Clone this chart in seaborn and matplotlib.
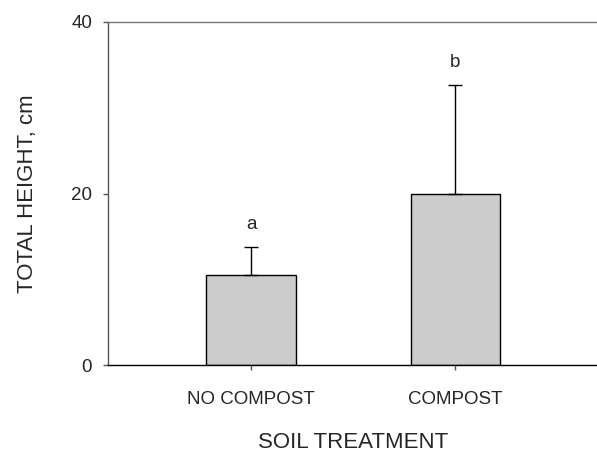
import pandas as pd
import matplotlib
matplotlib.use('Agg')
import matplotlib.pyplot as plt
import seaborn as sns

# Veriler
treatments = ['NO COMPOST', 'COMPOST']
mean_height = [10.5, 19.9]
sd_height = [3.3, 12.75]
letters = ['a', 'b']

df = pd.DataFrame({'Treatment': treatments, 'Height': mean_height})

sns.set_style('white')
plt.rcParams['font.family'] = ['Liberation Sans', 'DejaVu Sans']

fig = plt.figure(figsize=(5.97, 4.55), dpi=100)
ax = fig.add_axes([0.181, 0.197, 0.821, 0.755])

sns.barplot(data=df, x='Treatment', y='Height', color='#cccccc',
            edgecolor='black', linewidth=1, width=0.436,
            errorbar=None, saturation=1, ax=ax)

# Sadece üst hata çubukları
ax.errorbar(range(len(treatments)), mean_height,
            yerr=[[0] * len(sd_height), sd_height],
            fmt='none', ecolor='black', elinewidth=1, capsize=5, capthick=1)

# Anlamlılık harfleri
for i, (m, s, let) in enumerate(zip(mean_height, sd_height, letters)):
    ax.annotate(let, xy=(i, m + s), xytext=(0, 13), textcoords='offset points',
                ha='center', va='baseline', fontsize=13.5)

ax.set_xlim(-0.7, 1.7)
ax.set_ylim(0, 40)
ax.set_yticks([0, 20, 40])

ax.set_xlabel('SOIL TREATMENT', fontsize=16, labelpad=17)
ax.set_ylabel('TOTAL HEIGHT, cm', fontsize=16, labelpad=24)

ax.tick_params(axis='y', direction='out', length=3.5, width=1, labelsize=13.5,
               pad=8, left=True, color='#555555')
ax.tick_params(axis='x', direction='out', length=3.5, width=1, labelsize=13.5,
               pad=15, bottom=True, color='#555555')

ax.spines['right'].set_visible(False)
ax.spines['top'].set_color('#777777')
ax.spines['left'].set_color('#555555')
ax.spines['bottom'].set_color('black')
for sp in ['top', 'left', 'bottom']:
    ax.spines[sp].set_linewidth(1)

plt.savefig('out.png', dpi=100)
